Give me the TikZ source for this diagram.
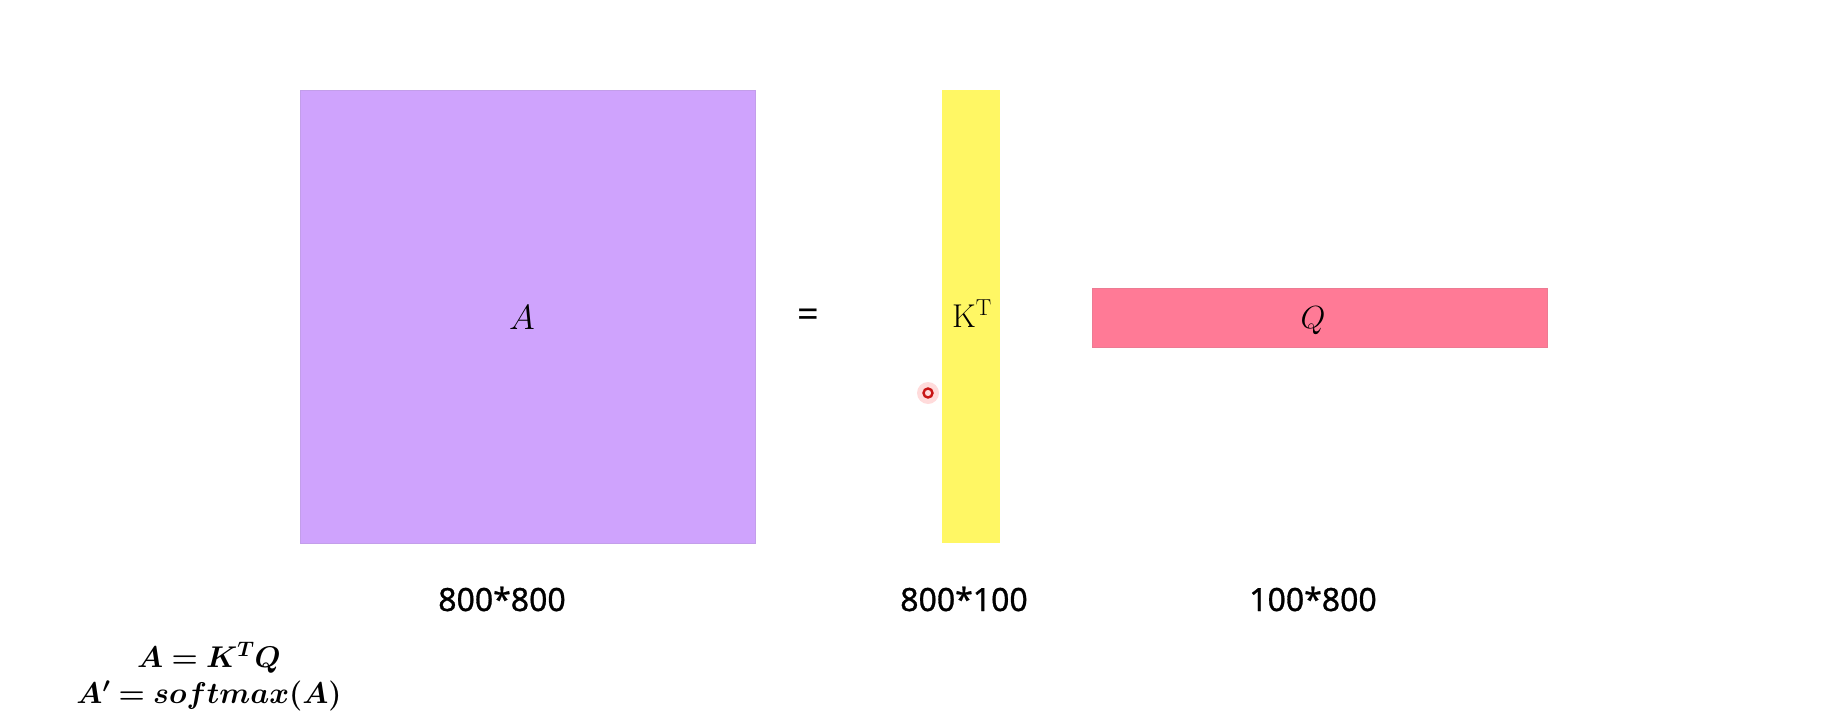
\RequirePackage{fix-cm}
\documentclass[tikz,border=0pt]{standalone}
\usepackage{fontspec}
\usepackage{bm}
\newfontfamily\labfont[FakeBold=0.9]{Noto Sans}
\newfontfamily\eqsignfont{Noto Sans}
\definecolor{matA}{RGB}{207,163,253}
\definecolor{matK}{RGB}{255,247,100}
\definecolor{matQ}{RGB}{255,122,150}
\definecolor{cursorred}{RGB}{200,20,20}
\begin{document}
\begin{tikzpicture}[x=1pt,y=-1pt,
  mat/.style={draw=#1!85!gray, fill=#1, line width=0.8pt, inner sep=0pt, anchor=north west},
  symlab/.style={font=\fontsize{35}{40}\selectfont},
  dimlab/.style={font=\labfont\fontsize{32}{38}\selectfont, inner sep=0pt},
  eqlab/.style={font=\fontsize{30}{36}\selectfont, inner sep=0pt, anchor=base}]
\useasboundingbox[fill=white] (0,0) rectangle (1838,725);
\node[mat=matA, minimum width=455pt, minimum height=453pt] (A) at (300,90) {};
\node[symlab] (Alab) at (522,318) {$A$};
\node[mat=matK, draw=none, minimum width=58pt, minimum height=453pt] (K) at (942,90) {};
\node[symlab, font=\fontsize{33}{38}\selectfont] (Klab) at (972,314) {K$^{\mathrm{T}}$};
\node[mat=matQ, minimum width=455pt, minimum height=59pt] (Q) at (1092,288) {};
\node[symlab, font=\fontsize{32}{38}\selectfont] (Qlab) at (1313,321) {$Q$};
\node[font=\eqsignfont\bfseries\fontsize{38}{44}\selectfont, inner sep=0pt] (eq) at (808,318) {=};
\node[dimlab] (dA) at (502,599) {800*800};
\node[dimlab] (dK) at (964,599) {800*100};
\node[dimlab] (dQ) at (1313,599) {100*800};
\node[eqlab] (e1) at (209,667) {$\bm{A = K^{T}Q}$};
\node[eqlab] (e2) at (209,703) {$\bm{A' = softmax(A)}$};
\fill[red!20, opacity=0.7] (928,393) circle (11);
\draw[cursorred, line width=2.4pt] (928,393) circle (4.5);
\end{tikzpicture}
\end{document}
